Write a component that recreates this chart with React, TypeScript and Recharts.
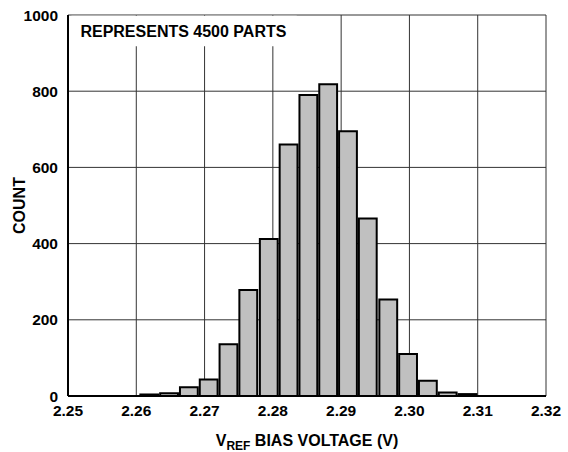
import React from 'react';
import {
  ComposedChart,
  Bar,
  XAxis,
  YAxis,
  CartesianGrid,
  ReferenceArea,
  Label,
} from 'recharts';

// bin centres (V) and counts
const binCenters = [
  2.2619, 2.2648, 2.2677, 2.2706, 2.2735, 2.2764, 2.2794, 2.2823, 2.2852,
  2.2881, 2.291, 2.2939, 2.2969, 2.2998, 2.3027, 2.3056, 2.3085,
];
const counts = [4, 7, 23, 43, 136, 278, 412, 660, 790, 818, 695, 466, 253, 110, 40, 9, 5];

const xTicks = [2.25, 2.26, 2.27, 2.28, 2.29, 2.3, 2.31, 2.32];
const yTicks = [0, 200, 400, 600, 800, 1000];

const note = 'REPRESENTS 4500 PARTS';

const data = binCenters.map((v, i) => ({ v, count: counts[i] }));

const FONT = '"Liberation Sans", Arial, sans-serif';
const tickStyle = { fill: '#000', fontSize: 15.5, fontWeight: 'bold', fontFamily: FONT };

const XTitle = (props: any) => {
  const { viewBox } = props;
  const cx = viewBox.x + viewBox.width / 2;
  return (
    <text
      x={cx}
      y={446}
      textAnchor="middle"
      fill="#000"
      fontSize={16}
      fontWeight="bold"
      fontFamily={FONT}
    >
      <tspan>V</tspan>
      <tspan fontSize={12} dy={4}>REF</tspan>
      <tspan dy={-4}> BIAS VOLTAGE (V)</tspan>
    </text>
  );
};

export default function App() {
  return (
    <div style={{ position: 'absolute', left: 0, top: 0, width: 568, height: 452, background: '#fff' }}>
      <ComposedChart
        width={568}
        height={452}
        data={data}
        margin={{ top: 15, right: 22, left: 0, bottom: 0 }}
      >
        <CartesianGrid stroke="#333" strokeWidth={1} />
        <XAxis
          dataKey="v"
          type="number"
          domain={[2.25, 2.32]}
          ticks={xTicks}
          tickFormatter={(t: number) => t.toFixed(2)}
          tick={tickStyle}
          tickLine={false}
          tickMargin={3}
          axisLine={{ stroke: '#000', strokeWidth: 2 }}
          height={56}
          interval={0}
          allowDataOverflow
        >
          <Label content={<XTitle />} />
        </XAxis>
        <XAxis
          xAxisId="top"
          orientation="top"
          type="number"
          domain={[2.25, 2.32]}
          tick={false}
          tickLine={false}
          axisLine={{ stroke: '#000', strokeWidth: 2 }}
          height={0}
        />
        <YAxis
          type="number"
          domain={[0, 1000]}
          ticks={yTicks}
          tick={tickStyle}
          tickLine={false}
          tickMargin={4}
          axisLine={{ stroke: '#000', strokeWidth: 2 }}
          width={68}
          interval={0}
        >
          <Label
            value="COUNT"
            angle={-90}
            position="insideLeft"
            offset={19}
            style={{ fill: '#000', fontSize: 16, fontWeight: 'bold', fontFamily: FONT, textAnchor: 'middle' }}
          />
        </YAxis>
        <YAxis
          yAxisId="right"
          orientation="right"
          type="number"
          domain={[0, 1000]}
          tick={false}
          tickLine={false}
          axisLine={{ stroke: '#000', strokeWidth: 2 }}
          width={0}
        />
        <ReferenceArea
          x1={2.2505}
          x2={2.2835}
          y1={918}
          y2={998}
          fill="#fff"
          fillOpacity={1}
          stroke="none"
        >
          <Label
            value={note}
            position="insideLeft"
            offset={9}
            style={{ fill: '#000', fontSize: 16, fontWeight: 'bold', fontFamily: FONT }}
          />
        </ReferenceArea>
        <Bar
          dataKey="count"
          fill="#c0c0c0"
          stroke="#000"
          strokeWidth={2}
          barSize={20}
          isAnimationActive={false}
        />
      </ComposedChart>
    </div>
  );
}
